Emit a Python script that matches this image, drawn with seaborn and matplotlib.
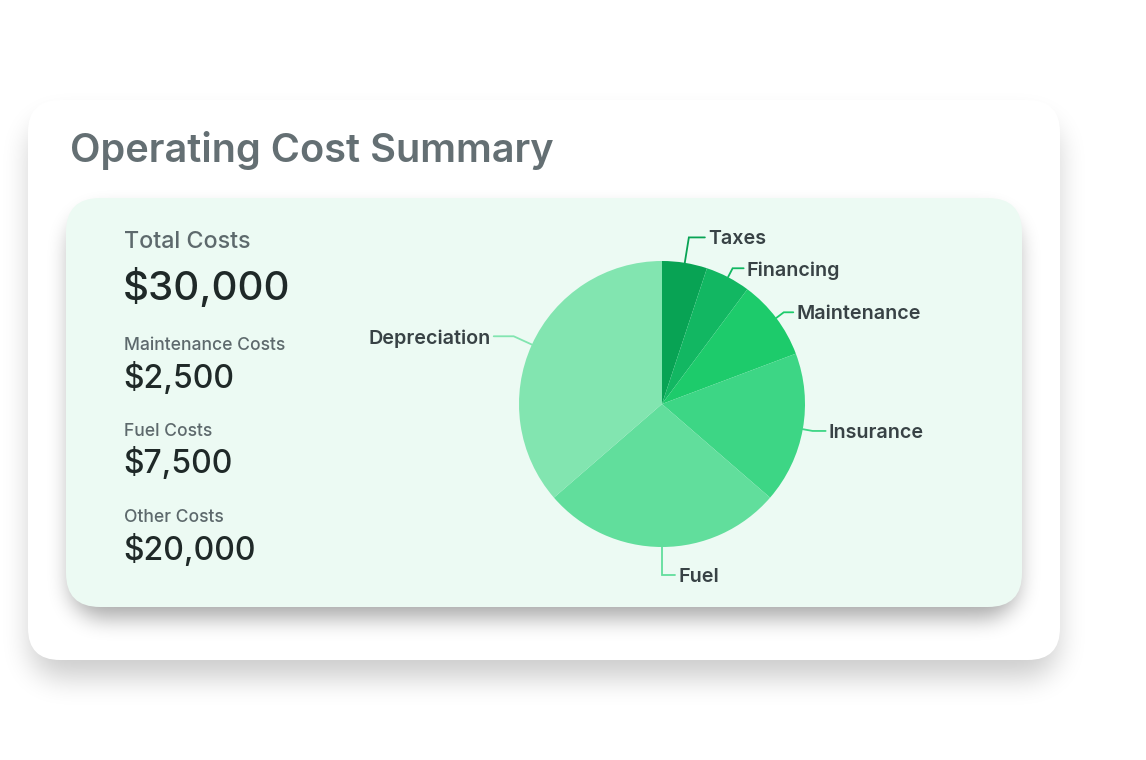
import numpy as np
import matplotlib
matplotlib.use("Agg")
import matplotlib.pyplot as plt
import seaborn as sns
from matplotlib.patches import FancyBboxPatch

# ---------------- data ----------------
categories = ["Taxes", "Financing", "Maintenance", "Insurance", "Fuel", "Depreciation"]
values = [1400, 1400, 2500, 4700, 7500, 10000]
summary_labels = ["Total Costs", "Maintenance Costs", "Fuel Costs", "Other Costs"]
summary_values = ["$30,000", "$2,500", "$7,500", "$20,000"]
title = "Operating Cost Summary"

# ---------------- style ----------------
slice_colors = ["#08a354", "#12b762", "#1dcb6b", "#3dd685", "#61de9c", "#82e5b0"]
leader_r = [1.18, 1.07, 1.066, 1.07, 1.196, 1.14]
leader_h = [16, 11, 9.5, 13, 13, 20]

W, H = 1146, 760
sns.set_theme(style="white")
plt.rcParams['font.family'] = ['Inter', 'DejaVu Sans']

fig = plt.figure(figsize=(W / 100, H / 100), dpi=100)
fig.patch.set_facecolor("white")
ax = fig.add_axes([0, 0, 1, 1])


def Y(y):
    return H - y


# ---------------- shadows ----------------
xx, yy = np.meshgrid(np.arange(W) + 0.5, np.arange(H) + 0.5)


def rr_mask(x0, y0, x1, y1, r):
    dx = np.maximum(np.maximum(x0 + r - xx, xx - (x1 - r)), 0)
    dy = np.maximum(np.maximum(y0 + r - yy, yy - (y1 - r)), 0)
    inside = (xx >= x0) & (xx <= x1) & (yy >= y0) & (yy <= y1) & (dx ** 2 + dy ** 2 <= r ** 2)
    return inside.astype(float)


def box(a, r, axis):
    pad = [(0, 0), (0, 0)]
    pad[axis] = (r + 1, r)
    p = np.pad(a, pad, mode="edge")
    c = np.cumsum(p, axis=axis)
    n = a.shape[axis]
    if axis == 0:
        return (c[2 * r + 1:2 * r + 1 + n] - c[0:n]) / (2 * r + 1)
    return (c[:, 2 * r + 1:2 * r + 1 + n] - c[:, 0:n]) / (2 * r + 1)


def blur(a, r):
    for _ in range(3):
        a = box(a, r, 0)
        a = box(a, r, 1)
    return a


def shadow(x0, y0, x1, y1, rad, off, br, alpha, z):
    m = rr_mask(x0, y0 + off, x1, y1 + off, rad)
    a = blur(m, br) * alpha
    img = np.zeros((H, W, 4))
    img[..., 3] = a
    ax.imshow(img, extent=(0, W, 0, H), origin="upper", zorder=z, interpolation="bilinear")


# outer card
shadow(30, 104, 1058, 662, 32, 16, 13, 0.20, 1)
ax.add_patch(FancyBboxPatch((28, Y(660)), 1060 - 28, 660 - 100,
                            boxstyle="round,pad=0,rounding_size=32",
                            fc="white", ec="none", zorder=2))
# inner card
shadow(70, 200, 1018, 605, 34, 13, 10, 0.34, 2.5)
ax.add_patch(FancyBboxPatch((66, Y(607)), 1022 - 66, 607 - 198,
                            boxstyle="round,pad=0,rounding_size=34",
                            fc="#ecfaf3", ec="none", zorder=3))

# ---------------- pie ----------------
cx, cy, R = 662, Y(404), 143
wedges, _ = ax.pie(values, colors=slice_colors, startangle=90, counterclock=False,
                   center=(cx, cy), radius=R, frame=True,
                   wedgeprops=dict(linewidth=0))
for w in wedges:
    w.set_zorder(4)

for w, lab, col, k, hl in zip(wedges, categories, slice_colors, leader_r, leader_h):
    mid = np.deg2rad((w.theta1 + w.theta2) / 2)
    c, s = np.cos(mid), np.sin(mid)
    p0 = (cx + R * c, cy + R * s)
    p1 = (cx + k * R * c, cy + k * R * s)
    d = 1 if c > -0.01 else -1
    p2 = (p1[0] + d * hl, p1[1])
    ax.plot([p0[0], p1[0], p2[0]], [p0[1], p1[1], p2[1]], color=col, lw=1.3,
            zorder=5, solid_joinstyle="miter")
    ax.text(p2[0] + d * 3, p2[1], lab, ha="left" if d > 0 else "right",
            va="center_baseline", fontsize=14.2, fontweight="semibold",
            color="#384245", zorder=6)

# ---------------- texts ----------------
ax.text(70, Y(162), title, fontsize=28.6, color="#646f73", fontweight="semibold",
        ha="left", va="baseline", zorder=6)

label_base = [248, 350, 436, 522]
value_base = [300, 388, 473, 560]
label_size = [16.8, 12.6, 12.6, 12.6]
value_size = [29, 23, 23, 23]
for lab, val, lb, vb, ls, vs in zip(summary_labels, summary_values, label_base,
                                    value_base, label_size, value_size):
    ax.text(124, Y(lb), lab, fontsize=ls, color="#5d696c", ha="left",
            va="baseline", fontweight=500, zorder=6)
    ax.text(123, Y(vb), val, fontsize=vs, color="#1f2928", ha="left",
            va="baseline", fontweight=500, zorder=6)

ax.set_xlim(0, W)
ax.set_ylim(0, H)
ax.set_aspect("auto")
ax.axis("off")

fig.savefig("out.png", dpi=100, facecolor="white")
